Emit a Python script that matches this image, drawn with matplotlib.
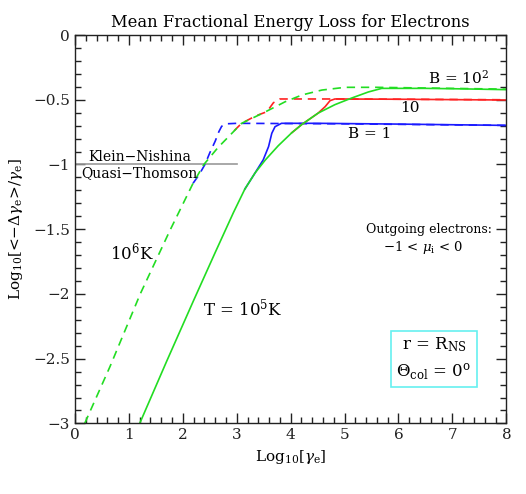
import matplotlib
matplotlib.use("Agg")
import matplotlib.pyplot as plt
from matplotlib.ticker import MultipleLocator

plt.rcParams['font.family'] = ['DejaVu Serif']
plt.rcParams['mathtext.fontset'] = 'dejavuserif'

# ---- data (log10 gamma_e, log10 fractional energy loss) ----
# T = 1e5 K (solid)
g5_x = [1.20, 1.70, 2.20, 2.60, 2.94, 3.15, 3.34, 3.53, 3.77, 4.02, 4.21, 4.51, 4.82, 5.13, 5.44, 5.69, 6.50, 7.20, 8.00]
g5_y = [-3.00, -2.52, -2.05, -1.68, -1.37, -1.19, -1.065, -0.965, -0.855, -0.755, -0.690, -0.603, -0.538, -0.487, -0.440, -0.412, -0.412, -0.416, -0.422]
b5_x = [3.15, 3.34, 3.49, 3.59, 3.65, 3.71, 3.83, 4.50, 6.00, 8.00]
b5_y = [-1.19, -1.065, -0.965, -0.862, -0.759, -0.708, -0.682, -0.682, -0.688, -0.698]
r5_x = [4.02, 4.21, 4.51, 4.64, 4.73, 4.82, 6.00, 8.00]
r5_y = [-0.755, -0.690, -0.603, -0.553, -0.507, -0.494, -0.496, -0.502]

# T = 1e6 K (dashed)
g6_x = [0.18, 0.65, 1.21, 1.76, 2.19, 2.39, 2.65, 3.09, 3.50, 3.90, 4.21, 4.58, 5.01, 5.60, 8.00]
g6_y = [-3.00, -2.56, -2.00, -1.51, -1.145, -1.00, -0.87, -0.682, -0.60, -0.515, -0.463, -0.425, -0.404, -0.404, -0.418]
b6_x = [2.19, 2.30, 2.41, 2.50, 2.60, 2.67, 2.72, 2.80, 3.00, 5.00, 8.00]
b6_y = [-1.145, -1.08, -1.00, -0.91, -0.82, -0.745, -0.705, -0.686, -0.682, -0.686, -0.698]
r6_x = [2.95, 3.09, 3.35, 3.56, 3.68, 3.80, 5.00, 8.00]
r6_y = [-0.74, -0.682, -0.625, -0.592, -0.523, -0.494, -0.494, -0.500]

kn_x = [0.0, 3.0]
kn_y = [-1.0, -1.0]

xticks = [0, 1, 2, 3, 4, 5, 6, 7, 8]
yticks = [0, -0.5, -1, -1.5, -2, -2.5, -3]
ytick_labels = ['0', '−0.5', '−1', '−1.5', '−2', '−2.5', '−3']

GREEN = '#22dd22'
BLUE = '#1a1aff'
RED = '#ff2222'

fig = plt.figure(figsize=(5.26, 4.94), dpi=100)
ax = fig.add_axes([0.1426, 0.1429, 0.82, 0.7862])

lw = 1.2
dash = (5, 3.5)
ax.plot(kn_x, kn_y, color='#999999', lw=1.2)
ax.plot(b6_x, b6_y, color=BLUE, lw=lw, dashes=dash)
ax.plot(r6_x, r6_y, color=RED, lw=lw, dashes=dash)
ax.plot(g6_x, g6_y, color=GREEN, lw=lw, dashes=dash)
ax.plot(b5_x, b5_y, color=BLUE, lw=lw)
ax.plot(r5_x, r5_y, color=RED, lw=lw)
ax.plot(g5_x, g5_y, color=GREEN, lw=lw)

ax.set_xlim(0, 8)
ax.set_ylim(-3, 0)
ax.set_xticks(xticks)
ax.set_xticklabels([str(t) for t in xticks])
ax.set_yticks(yticks)
ax.set_yticklabels(ytick_labels)
ax.xaxis.set_minor_locator(MultipleLocator(0.2))
ax.yaxis.set_minor_locator(MultipleLocator(0.1))
ax.tick_params(which='both', direction='in', top=True, right=True, labelsize=11, colors='#222222')
ax.tick_params(which='major', length=7, width=1)
ax.tick_params(which='minor', length=4, width=1)
for s in ax.spines.values():
    s.set_linewidth(1.0)
    s.set_color('#222222')

ax.set_title('Mean Fractional Energy Loss for Electrons', fontsize=11.8, pad=6)
ax.set_xlabel(r'Log$_{10}$[$\gamma_{\rm e}$]', fontsize=11, labelpad=4)
ax.set_ylabel(r'Log$_{10}$[<$-\Delta\gamma_{\rm e}$>/$\gamma_{\rm e}$]', fontsize=11, labelpad=6)

fs = 11
ax.text(6.55, -0.332, r'B = 10$^2$', fontsize=fs, va='center', ha='left')
ax.text(6.22, -0.564, '10', fontsize=fs, va='center', ha='center')
ax.text(5.07, -0.764, 'B = 1', fontsize=fs, va='center', ha='left')
ax.text(1.2, -0.94, 'Klein−Nishina', fontsize=10, va='center', ha='center')
ax.text(1.2, -1.07, 'Quasi−Thomson', fontsize=10, va='center', ha='center')
ax.text(0.65, -1.676, r'10$^6$K', fontsize=12, va='center', ha='left')
ax.text(2.37, -2.11, r'T = 10$^5$K', fontsize=12, va='center', ha='left')
ax.text(7.74, -1.50, 'Outgoing electrons:', fontsize=9, va='center', ha='right')
ax.text(6.46, -1.64, r'$-1$ < $\mu_{\rm i}$ < 0', fontsize=9.5, va='center', ha='center')

ax.text(6.66, -2.50, r'r = R$_{\rm NS}$' + '\n' + r'$\Theta_{\rm col}$ = 0$^{\rm o}$',
        fontsize=12, va='center', ha='center', linespacing=1.5,
        bbox=dict(boxstyle='square,pad=0.3', fc='white', ec='#66f0f0', lw=1.2))

fig.savefig('out.png', dpi=100)
